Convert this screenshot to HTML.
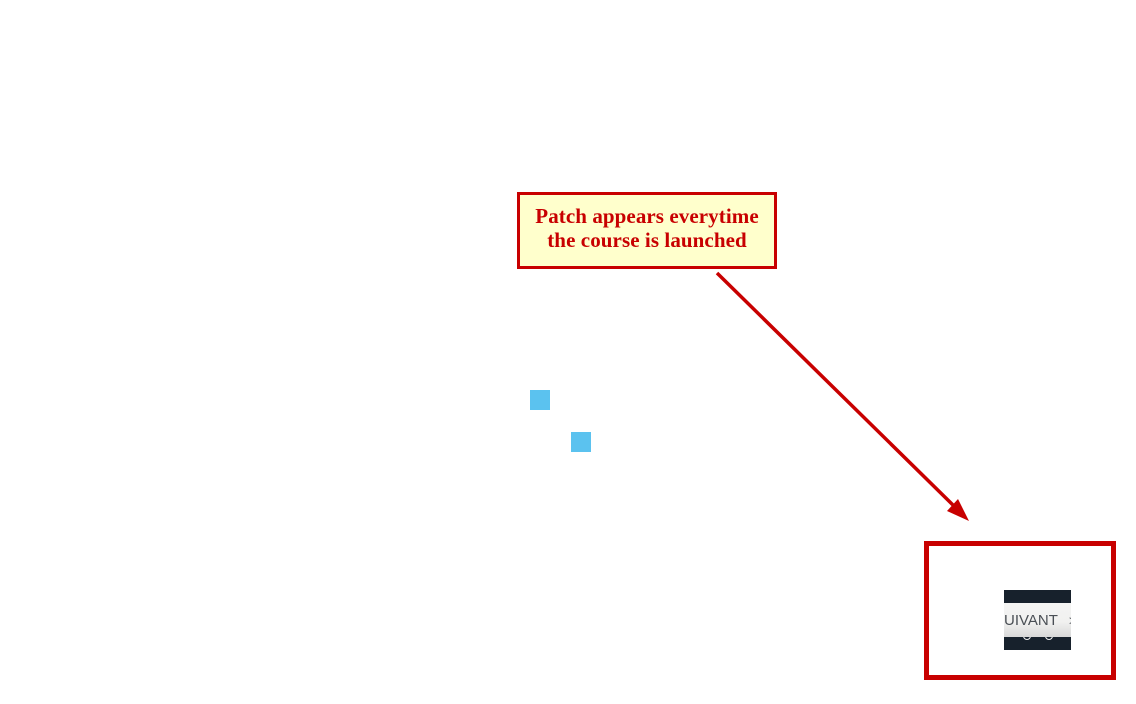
<!DOCTYPE html>
<html lang="en">
<head>
<meta charset="utf-8">
<title>Patch annotation</title>
<style>
html,body{margin:0;padding:0;background:#fff;}
#stage{position:relative;width:1136px;height:704px;overflow:hidden;background:#fff;font-family:"Liberation Sans",sans-serif;}
#stage>*{position:absolute;box-sizing:border-box;}
#callout{left:517px;top:192px;width:260px;height:77px;background:#ffffcc;border:3px solid #c80000;color:#c80000;font-family:"Liberation Serif",serif;font-weight:bold;font-size:21px;line-height:24px;text-align:center;padding-top:9px;letter-spacing:.08px;white-space:nowrap;}
.sq{width:20px;height:20px;background:#5bc2ef;}
#frame{left:924px;top:541px;width:192px;height:139px;border:5px solid #c80000;}
#patch{left:1004px;top:590px;width:67px;height:60px;background:#17212c;overflow:hidden;}
#bar{position:absolute;left:0;top:13px;width:67px;height:34px;background:linear-gradient(#f4f4f3 0,#f1f1f0 55%,#d8d8d8 100%);color:#4a4f55;font-size:15px;line-height:36px;white-space:nowrap;}
#chev{position:absolute;left:65px;top:0;font-size:13px;color:#4a4f55;}
.dot{position:absolute;top:42px;width:8px;height:8px;border:1px solid #f2f2f2;border-radius:50%;box-sizing:border-box;}
#arrow{left:0;top:0;width:1136px;height:704px;}
</style>
</head>
<body>
<div id="stage">
  <svg id="arrow" viewBox="0 0 1136 704">
    <line x1="717" y1="273" x2="955" y2="507" stroke="#c80000" stroke-width="3.5"/>
    <polygon points="969,521 947,511 958,499" fill="#c80000"/>
  </svg>
  <div id="callout">Patch appears everytime<br>the course is launched</div>
  <div class="sq" style="left:529.5px;top:390px"></div>
  <div class="sq" style="left:571px;top:432px"></div>
  <div id="frame"></div>
  <div id="patch">
    <div class="dot" style="left:19px"></div>
    <div class="dot" style="left:41px"></div>
    <div id="bar">UIVANT<span id="chev">&gt;</span></div>
  </div>
</div>
</body>
</html>
